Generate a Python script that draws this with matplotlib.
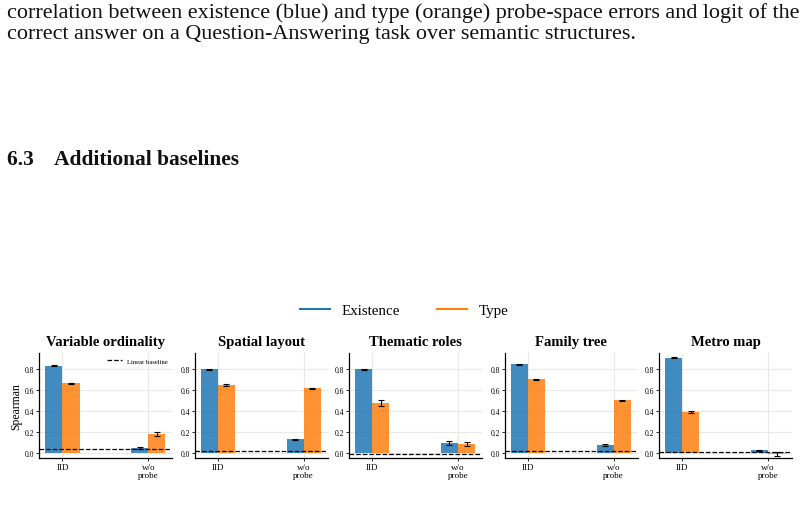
import numpy as np
import matplotlib.pyplot as plt
from matplotlib.lines import Line2D

plt.rcParams['font.family'] = ['Liberation Serif', 'DejaVu Serif']

# data
tasks = ['Variable ordinality', 'Spatial layout', 'Thematic roles', 'Family tree', 'Metro map']
groups = ['IID', 'w/o\nprobe']
existence = [[0.831, 0.055], [0.800, 0.135], [0.800, 0.098], [0.847, 0.078], [0.908, 0.030]]
existence_err = [[0.004, 0.010], [0.004, 0.006], [0.005, 0.015], [0.004, 0.012], [0.004, 0.005]]
type_vals = [[0.665, 0.183], [0.645, 0.617], [0.478, 0.090], [0.705, 0.505], [0.390, -0.005]]
type_err = [[0.004, 0.015], [0.010, 0.008], [0.025, 0.020], [0.005, 0.005], [0.010, 0.020]]
baseline = [0.045, 0.020, -0.007, 0.022, 0.015]

blue = '#1f77b4'
orange = '#ff7f0e'

fig = plt.figure(figsize=(8.04, 5.10), dpi=100)

# surrounding page text
fig.text(7/804, 1-13/510, 'correlation between existence (blue) and type (orange) probe-space errors and logit of the',
         fontsize=15.9, va='center', ha='left', color='#111111')
fig.text(7/804, 1-34/510, 'correct answer on a Question-Answering task over semantic structures.',
         fontsize=15.9, va='center', ha='left', color='#111111')
fig.text(7/804, 1-160/510, '6.3    Additional baselines', fontsize=15.4, fontweight='bold',
         va='center', ha='left', color='#111111')

x = np.arange(len(groups))
w = 0.2
lefts = [39.3, 194.7, 349.0, 504.7, 659.0]
for i, t in enumerate(tasks):
    ax = fig.add_axes([lefts[i]/804, 1-459.3/510, 133/804, 105/510])
    ax.set_axisbelow(True)
    ax.grid(True, color='#e8e8e8', linewidth=0.8)
    ax.bar(x - w/2, existence[i], w, color=blue, alpha=0.85, zorder=2)
    ax.bar(x + w/2, type_vals[i], w, color=orange, alpha=0.85, zorder=2)
    ax.errorbar(x - w/2, existence[i], yerr=existence_err[i], fmt='none', ecolor='black',
                elinewidth=0.8, capsize=2, capthick=0.8, zorder=3)
    ax.errorbar(x + w/2, type_vals[i], yerr=type_err[i], fmt='none', ecolor='black',
                elinewidth=0.8, capsize=2, capthick=0.8, zorder=3)
    ax.axhline(baseline[i], color='black', linestyle='--', linewidth=0.9, zorder=4,
               label='Linear baseline')
    ax.set_xlim(-0.27, 1.28)
    ax.set_ylim(-0.047, 0.95)
    ax.set_xticks(x)
    ax.set_xticklabels(groups, fontsize=6.5, linespacing=1.0)
    ax.set_yticks([0.0, 0.2, 0.4, 0.6, 0.8])
    ax.set_yticklabels(['0.0', '0.2', '0.4', '0.6', '0.8'], fontsize=5.5)
    ax.tick_params(length=2, width=0.6, pad=1.5)
    ax.spines['top'].set_visible(False)
    ax.spines['right'].set_visible(False)
    ax.spines['left'].set_linewidth(0.9)
    ax.spines['bottom'].set_linewidth(0.9)
    ax.set_title(t, fontsize=10.5, fontweight='bold', pad=6)
    if i == 0:
        ax.set_ylabel('Spearman', fontsize=8.5, labelpad=2)
        ax.legend(loc='upper right', fontsize=4.8, frameon=False, handlelength=2.2,
                  borderaxespad=0.3)

handles = [Line2D([0], [0], color=blue, lw=1.5), Line2D([0], [0], color=orange, lw=1.5)]
fig.legend(handles, ['Existence', 'Type'], loc='center', bbox_to_anchor=(404/804, 1-311/510),
           ncol=2, frameon=False, fontsize=10.8, handlelength=2.0, handletextpad=0.75,
           columnspacing=2.5)

fig.savefig('out.png', dpi=100)
